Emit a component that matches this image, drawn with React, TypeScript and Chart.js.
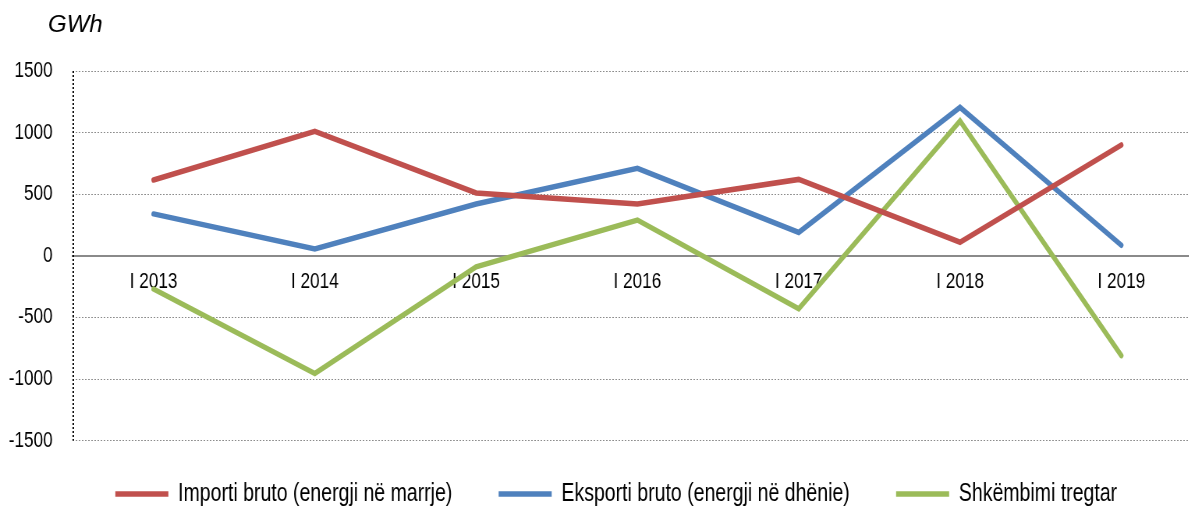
import React, { useEffect, useRef } from "react";
import { Chart, registerables } from "chart.js";

Chart.register(...registerables);

const categories = ["I 2013", "I 2014", "I 2015", "I 2016", "I 2017", "I 2018", "I 2019"];
const importiBruto = [615, 1010, 510, 420, 620, 110, 900];
const eksportiBruto = [340, 55, 420, 710, 190, 1205, 85];
const shkembimiTregtar = [-270, -955, -90, 290, -430, 1095, -810];
const yMin = -1500;
const yMax = 1500;
const yStep = 500;
const unitLabel = "GWh";
const seriesNames = [
  "Importi bruto (energji në marrje)",
  "Eksporti bruto (energji në dhënie)",
  "Shkëmbimi tregtar",
];

// The reference uses a condensed face; emulate it with a horizontal squeeze.
const SQUEEZE = 0.78;
const FONT = "'Liberation Sans', Arial, sans-serif";

const decorPlugin = {
  id: "decor",
  afterLayout(chart: any) {
    const lg = chart.legend;
    if (lg) {
      lg.top -= 18.5;
      lg.bottom -= 18.5;
      lg.left += 15;
      lg.right += 15;
    }
  },
  afterDatasetsDraw(chart: any) {
    const { ctx, chartArea } = chart;
    ctx.save();
    ctx.strokeStyle = "#000";
    ctx.lineWidth = 2;
    ctx.setLineDash([2, 2]);
    ctx.beginPath();
    ctx.moveTo(chartArea.left + 0.5, chartArea.top);
    ctx.lineTo(chartArea.left + 0.5, chartArea.bottom);
    ctx.stroke();
    ctx.restore();
  },
  afterDraw(chart: any) {
    const { ctx } = chart;
    ctx.save();
    ctx.scale(1 / SQUEEZE, 1);
    ctx.fillStyle = "#000";
    ctx.font = "italic 24px " + FONT;
    ctx.textBaseline = "middle";
    ctx.textAlign = "left";
    ctx.fillText(unitLabel, 48, 25);
    ctx.restore();
  },
};

export default function App() {
  const ref = useRef<HTMLCanvasElement | null>(null);
  useEffect(() => {
    if (!ref.current) return;
    const colors = ["#C0504D", "#4F81BD", "#9BBB59"];
    const values = [importiBruto, eksportiBruto, shkembimiTregtar];
    const chart = new Chart(ref.current, {
      type: "line",
      data: {
        labels: categories,
        datasets: values.map((v, i) => ({
          label: seriesNames[i],
          data: v,
          borderColor: colors[i],
          backgroundColor: colors[i],
          borderWidth: 5.5,
          pointRadius: 0,
          pointHoverRadius: 0,
          tension: 0,
          fill: false,
          borderCapStyle: "round",
          borderJoinStyle: "miter",
        })),
      },
      options: {
        animation: false,
        responsive: false,
        devicePixelRatio: 1,
        layout: { padding: { top: 71, left: 9, right: 8, bottom: 0 } },
        plugins: {
          tooltip: { enabled: false },
          title: { display: false },
          legend: {
            position: "bottom",
            labels: {
              usePointStyle: true,
              pointStyle: "line",
              pointStyleWidth: 68,
              padding: 59.4,
              color: "#000",
              font: { family: FONT, size: 25 },
            },
          },
        },
        scales: {
          x: {
            type: "category",
            offset: true,
            position: { y: 0 },
            grid: { display: false, drawTicks: false },
            border: { display: true, color: "#8a8a8a", width: 2 },
            ticks: {
              color: "#000",
              padding: 13,
              maxRotation: 0,
              autoSkip: false,
              font: { family: FONT, size: 22 },
            },
          },
          y: {
            min: yMin,
            max: yMax,
            afterFit: (scale: any) => {
              scale.width = 84.4;
            },
            grid: { color: "#8c8c8c", lineWidth: 1, drawTicks: false },
            border: { display: false, dash: [2, 2] },
            ticks: {
              stepSize: yStep,
              color: "#000",
              padding: 26,
              font: { family: FONT, size: 22 },
              callback: (v: any) => String(v),
            },
          },
        },
      },
      plugins: [decorPlugin],
    });
    return () => chart.destroy();
  }, []);
  return (
    <div
      style={{
        position: "fixed",
        left: 0,
        top: 0,
        width: 1189,
        height: 506,
        overflow: "hidden",
        background: "#fff",
      }}
    >
      <canvas
        ref={ref}
        width={1549}
        height={535}
        style={{ display: "block", transform: `scaleX(${SQUEEZE})`, transformOrigin: "0 0" }}
      />
    </div>
  );
}
